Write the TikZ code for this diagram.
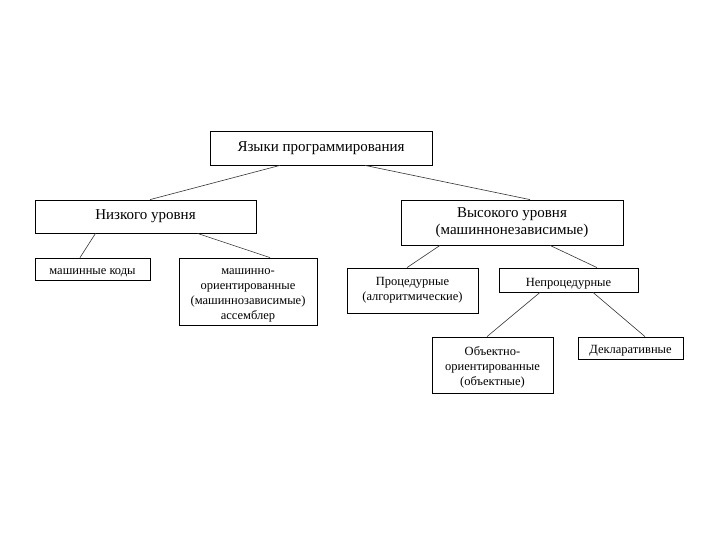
\documentclass[tikz,border=0pt]{standalone}
\usepackage{fontspec}
\setmainfont{Liberation Serif}
\usetikzlibrary{positioning}
\newcommand{\tdrop}[1]{\rule{0pt}{#1}}
\tikzset{
   box/.style = {%
    shape=rectangle,
    draw=black,
    fill=white,
    line width=0.8pt,
    align=center,
    inner sep=1pt,
    font=\fontsize{12.5}{15}\selectfont},
   bigbox/.style = {%
    box,
    font=\fontsize{15}{17}\selectfont},
   link/.style = {%
    draw=black!80,
    line width=0.6pt},
    }
\begin{document}
\begin{tikzpicture}[x=1pt,y=-1pt]
    \useasboundingbox (0,0) rectangle (720,540);
    % top level
    \node[bigbox, minimum width=222pt, minimum height=34pt] (lang) at (321,148) {Языки программирования};
    % second level
    \node[bigbox, minimum width=221pt, minimum height=33pt] (low) at (145.5,216.5) {Низкого уровня};
    \node[bigbox, minimum width=222pt, minimum height=45pt] (high) at (512,222.5) {Высокого уровня\\(машиннонезависимые)};
    % low level languages
    \node[box, minimum width=115pt, minimum height=22pt] (codes) at (92.5,269) {\tdrop{14pt}машинные коды};
    \node[box, minimum width=138pt, minimum height=67pt] (asm) at (248,291.5)
        {\tdrop{14pt}машинно-\\ориентированные\\(машиннозависимые)\\ассемблер};
    % high level languages
    \node[box, minimum width=131pt, minimum height=45pt] (proc) at (412.5,290.5) {Процедурные\\(алгоритмические)};
    \node[box, minimum width=139pt, minimum height=24pt] (nonproc) at (568.5,280) {\tdrop{16pt}Непроцедурные};
    \node[box, minimum width=121pt, minimum height=56pt] (obj) at (492.5,365)
        {\tdrop{13pt}Объектно-\\ориентированные\\(объектные)};
    \node[box, minimum width=105pt, minimum height=22pt] (decl) at (630.5,348) {\tdrop{13pt}Декларативные};
    % connectors
    \draw[link] ([xshift=-41pt]lang.south) -- ([xshift=4.5pt]low.north);
    \draw[link] ([xshift=44pt]lang.south) -- ([xshift=18pt]high.north);
    \draw[link] ([xshift=-50pt]low.south) -- ([xshift=-12.5pt]codes.north);
    \draw[link] ([xshift=52pt]low.south) -- ([xshift=22pt]asm.north);
    \draw[link] ([xshift=-72pt]high.south) -- ([xshift=-5.5pt]proc.north);
    \draw[link] ([xshift=38pt]high.south) -- ([xshift=28.5pt]nonproc.north);
    \draw[link] ([xshift=-28.5pt]nonproc.south) -- ([xshift=-5.5pt]obj.north);
    \draw[link] ([xshift=24.5pt]nonproc.south) -- ([xshift=14.5pt]decl.north);
\end{tikzpicture}
\end{document}
